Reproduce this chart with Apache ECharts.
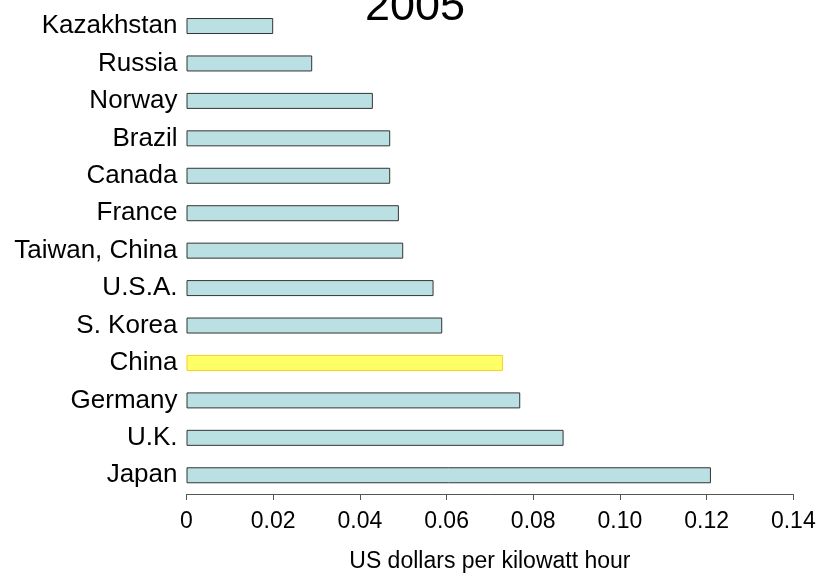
<!DOCTYPE html>
<html>
<head>
<meta charset="utf-8">
<script src="https://cdn.jsdelivr.net/npm/echarts@6/dist/echarts.min.js"></script>
<style>html,body{margin:0;padding:0;background:#fff}#c{width:820px;height:578px}</style>
</head>
<body>
<div id="c"></div>
<script>
const categories = ['Kazakhstan','Russia','Norway','Brazil','Canada','France','Taiwan, China','U.S.A.','S. Korea','China','Germany','U.K.','Japan'];
const values = [0.020,0.029,0.043,0.047,0.047,0.049,0.050,0.057,0.059,0.073,0.077,0.087,0.121];
const highlighted = 'China';
const xTicks = { min: 0, max: 0.14, interval: 0.02 };
const titleText = '2005';
const xAxisName = 'US dollars per kilowatt hour';

const FONT = "'Liberation Sans', Arial, sans-serif";
const chart = echarts.init(document.getElementById('c'), null, {renderer:'canvas'});
chart.setOption({
  animation: false,
  backgroundColor: '#fff',
  title: {
    text: titleText, left: 365, top: -15, padding: 0,
    textStyle: { fontFamily: FONT, fontSize: 45, fontWeight: 'normal', color: '#000' }
  },
  grid: { left: 186.5, right: 26.7, top: 7.3, bottom: 83.7, containLabel: false },
  xAxis: {
    type: 'value', min: xTicks.min, max: xTicks.max, interval: xTicks.interval,
    name: xAxisName, nameLocation: 'middle', nameGap: 56,
    nameTextStyle: { fontFamily: FONT, fontSize: 23, color: '#000' },
    axisLine: { show: true, lineStyle: { color: '#555', width: 1 } },
    axisTick: { show: true, length: 6, lineStyle: { color: '#555' } },
    axisLabel: { fontFamily: FONT, fontSize: 23, color: '#000', margin: 16,
      formatter: v => v === 0 ? '0' : v.toFixed(2) },
    splitLine: { show: false }
  },
  yAxis: {
    type: 'category', data: categories, inverse: true,
    axisLine: { show: false }, axisTick: { show: false },
    axisLabel: { fontFamily: FONT, fontSize: 26, color: '#000', margin: 9 }
  },
  series: [{
    type: 'bar', barWidth: 16,
    data: values.map((v, i) => ({
      value: v,
      itemStyle: categories[i] === highlighted
        ? { color: '#FFFF66', borderColor: '#FFCC22', borderWidth: 1 }
        : { color: '#BBE0E3', borderColor: '#333', borderWidth: 1 }
    }))
  }]
});
</script>
</body>
</html>
